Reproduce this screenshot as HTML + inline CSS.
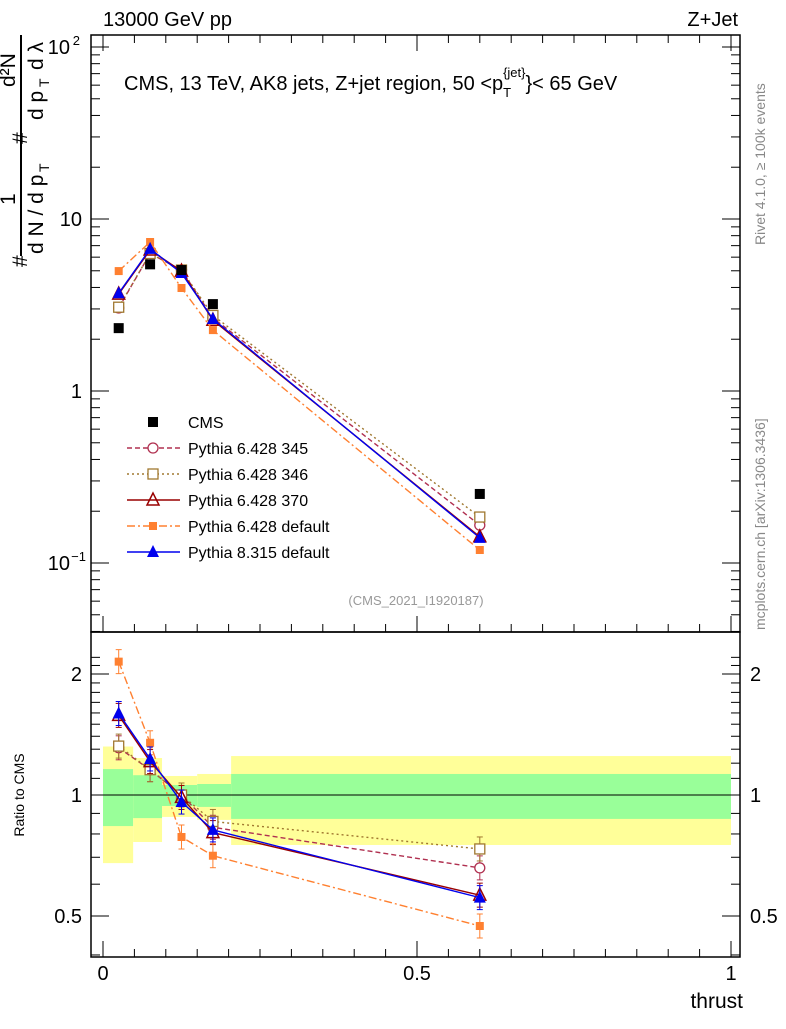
<!DOCTYPE html>
<html><head><meta charset="utf-8"><style>
body{margin:0;background:#fff;font-family:"Liberation Sans",sans-serif}
</style></head><body>
<svg id="c" width="786" height="1024" xmlns="http://www.w3.org/2000/svg" font-family="Liberation Sans, sans-serif">
<g id="bands"></g>
<g id="axes"></g>
<g id="series"></g>
<text x="103" y="26" font-size="20">13000 GeV pp</text>
<text x="738" y="26" font-size="20" text-anchor="end">Z+Jet</text>
<text x="124" y="90" font-size="20">CMS, 13 TeV, AK8 jets, Z+jet region, 50 &lt;p<tspan font-size="13" dy="7">T</tspan><tspan font-size="13" dx="-8" dy="-20">{jet}</tspan><tspan dy="13">}&lt; 65 GeV</tspan></text>
<text x="416" y="605" font-size="13" fill="#999" text-anchor="middle">(CMS_2021_I1920187)</text>
<text transform="translate(765,245) rotate(-90)" font-size="14" fill="#888">Rivet 4.1.0, ≥ 100k events</text>
<text transform="translate(765,630) rotate(-90)" font-size="14" fill="#888">mcplots.cern.ch [arXiv:1306.3436]</text>
<g transform="translate(0,270) rotate(-90)" font-size="21">
<text x="3" y="27">#</text>
<text x="16" y="43">d N / d p</text><text x="98" y="49" font-size="14">T</text>
<line x1="14" y1="21" x2="235" y2="21" stroke="#000" stroke-width="2"/>
<text x="65" y="15">1</text>
<text x="126" y="27">#</text>
<text x="150" y="43">d p</text><text x="183" y="49" font-size="14">T</text>
<text x="200" y="43">d λ</text>
<text x="183" y="15">d²N</text>
</g>
<text x="24" y="795" font-size="14" transform="rotate(-90,24,795)" text-anchor="middle">Ratio to CMS</text>
<text x="743" y="1008" font-size="21" text-anchor="end">thrust</text>
<g id="legend"></g>
</svg>
<script>
const xEdges=[0,0.048,0.094,0.150,0.204,1.0];
const xPts=[0.025,0.075,0.125,0.175,0.6];
const cms=[2.32,5.45,5.05,3.2,0.252];
const p345=[3.04,6.3,5.05,2.66,0.166];
const p346=[3.07,6.3,5.05,2.75,0.185];
const p370=[3.66,6.6,4.98,2.58,0.142];
const p6def=[4.98,7.35,3.97,2.26,0.119];
const p8def=[3.7,6.7,4.85,2.62,0.140];
const yellowHi=[1.32,1.236,1.115,1.128,1.25];
const yellowLo=[0.677,0.764,0.882,0.867,0.751];
const greenHi=[1.16,1.12,1.059,1.065,1.128];
const greenLo=[0.837,0.876,0.939,0.934,0.872];
const xTicks=[0,0.5,1];
const xTickLabels=["0","0.5","1"];
const ratioTicks=[0.5,1,2];
const ratioTickLabels=["0.5","1","2"];

const NS="http://www.w3.org/2000/svg";
const X=v=>103+628*v;
const Y=v=>391-172*Math.log10(v);
const R=v=>795-402*Math.log10(v);
function mk(p,t,a){const e=document.createElementNS(NS,t);for(const k in a)e.setAttribute(k,a[k]);p.appendChild(e);return e;}
const bands=document.getElementById('bands'),axes=document.getElementById('axes'),ser=document.getElementById('series'),leg=document.getElementById('legend');
for(let i=0;i<5;i++){
 let r=mk(bands,'rect',{x:X(xEdges[i]),y:R(yellowHi[i]),width:X(xEdges[i+1])-X(xEdges[i]),height:R(yellowLo[i])-R(yellowHi[i]),fill:'#ffff99'});
 
 
 let g=mk(bands,'rect',{x:X(xEdges[i]),y:R(greenHi[i]),width:X(xEdges[i+1])-X(xEdges[i]),height:R(greenLo[i])-R(greenHi[i]),fill:'#99ff99'});
 
 
}
let f1=mk(axes,'rect',{x:91,y:35,width:649,height:597,fill:'none',stroke:'#000','stroke-width':1.5});


let f2=mk(axes,'rect',{x:91,y:632,width:649,height:325,fill:'none',stroke:'#000','stroke-width':1.5});


mk(axes,'line',{x1:91,x2:740,y1:R(1),y2:R(1),stroke:'#000','stroke-width':1});
for(let k=0;k<=20;k++){const v=k*0.05,big=k%10==0,len=big?16:8;
 for(const yb of [632,957]){mk(axes,'line',{x1:X(v),x2:X(v),y1:yb,y2:yb-len,stroke:'#000'});}
 mk(axes,'line',{x1:X(v),x2:X(v),y1:35,y2:35+len,stroke:'#000'});
}
xTicks.forEach((v,i)=>{let t=mk(axes,'text',{x:X(v),y:980,'font-size':20,'text-anchor':'middle'});t.textContent=xTickLabels[i];
 
 });
for(let d=-2;d<=2;d++)for(let m=1;m<10;m++){const v=m*Math.pow(10,d),y=Y(v);if(y<35||y>632)continue;
 const len=m==1?18:9;mk(axes,'line',{x1:91,x2:91+len,y1:y,y2:y,stroke:'#000'});mk(axes,'line',{x1:740,x2:740-len,y1:y,y2:y,stroke:'#000'});}
[[100,'10','2'],[10,'10',''],[1,'1',''],[0.1,'10','−1']].forEach(a=>{let t=mk(axes,'text',{x:a[2]?70:82,y:Y(a[0])+7,'font-size':20,'text-anchor':'end'});t.textContent=a[1];
 if(a[2]){let s=mk(axes,'text',{x:a[2]=='2'?80:86,y:Y(a[0])-2,'font-size':13,'text-anchor':'end'});s.textContent=a[2];}
 
 });
for(let v=0.4;v<=2.3;v+=0.1){const y=R(v);if(y<632||y>957)continue;const big=[0.5,1,2].some(b=>Math.abs(b-v)<1e-6);const len=big?18:9;
 mk(axes,'line',{x1:91,x2:91+len,y1:y,y2:y,stroke:'#000'});mk(axes,'line',{x1:740,x2:740-len,y1:y,y2:y,stroke:'#000'});}
ratioTicks.forEach((v,i)=>{for(const [x,a] of [[82,'end'],[750,'start']]){let t=mk(axes,'text',{x:x,y:R(v)+7,'font-size':20,'text-anchor':a});t.textContent=ratioTickLabels[i];
 
 }});
function marker(p,type,x,y,c){
 if(type=='sq')return mk(p,'rect',{x:x-5,y:y-5,width:10,height:10,fill:c});
 if(type=='sqs')return mk(p,'rect',{x:x-4,y:y-4,width:8,height:8,fill:c});
 if(type=='circ')return mk(p,'circle',{cx:x,cy:y,r:5,fill:'#fff',stroke:c,'stroke-width':1.3});
 if(type=='osq')return mk(p,'rect',{x:x-5,y:y-5,width:10,height:10,fill:'#fff',stroke:c,'stroke-width':1.3});
 if(type=='otri')return mk(p,'polygon',{points:`${x},${y-7} ${x-6},${y+5} ${x+6},${y+5}`,fill:'none',stroke:c,'stroke-width':1.5});
 if(type=='tri')return mk(p,'polygon',{points:`${x},${y-7} ${x-6},${y+5} ${x+6},${y+5}`,fill:c});
}
const series=[
 {name:'Pythia 6.428 345',d:p345,c:'#b03050',dash:'5,3',m:'circ'},
 {name:'Pythia 6.428 346',d:p346,c:'#a07830',dash:'2,3',m:'osq'},
 {name:'Pythia 6.428 370',d:p370,c:'#990000',dash:'',m:'otri'},
 {name:'Pythia 6.428 default',d:p6def,c:'#ff8030',dash:'8,3,2,3',m:'sqs'},
 {name:'Pythia 8.315 default',d:p8def,c:'#0000ee',dash:'',m:'tri'}];
series.forEach(s=>{
 const g=mk(ser,'g',{});
 
 
 mk(g,'polyline',{points:s.d.map((v,i)=>X(xPts[i])+','+Y(v)).join(' '),fill:'none',stroke:s.c,'stroke-width':1.4,'stroke-dasharray':s.dash});
 mk(g,'polyline',{points:s.d.map((v,i)=>X(xPts[i])+','+R(v/cms[i])).join(' '),fill:'none',stroke:s.c,'stroke-width':1.4,'stroke-dasharray':s.dash});
 s.d.forEach((v,i)=>{marker(g,s.m,X(xPts[i]),Y(v),s.c);
  const ry=R(v/cms[i]);mk(g,'line',{x1:X(xPts[i]),x2:X(xPts[i]),y1:ry-12,y2:ry+12,stroke:s.c});
  mk(g,'line',{x1:X(xPts[i])-3,x2:X(xPts[i])+3,y1:ry-12,y2:ry-12,stroke:s.c});mk(g,'line',{x1:X(xPts[i])-3,x2:X(xPts[i])+3,y1:ry+12,y2:ry+12,stroke:s.c});
  marker(g,s.m,X(xPts[i]),ry,s.c);});
});
const cg=mk(ser,'g',{});


cms.forEach((v,i)=>marker(cg,'sq',X(xPts[i]),Y(v),'#000'));
const items=[{name:'CMS',c:'#000',dash:null,m:'sq'}].concat(series);
items.forEach((s,i)=>{const y=422+26*i;const g=mk(leg,'g',{});
 
 
 if(s.dash!==null)mk(g,'line',{x1:127,x2:180,y1:y,y2:y,stroke:s.c,'stroke-width':1.4,'stroke-dasharray':s.dash});
 marker(g,s.m,153,y,s.c);
 const t=mk(g,'text',{x:188,y:y+6,'font-size':16});t.textContent=s.name;});
</script>
</body></html>
